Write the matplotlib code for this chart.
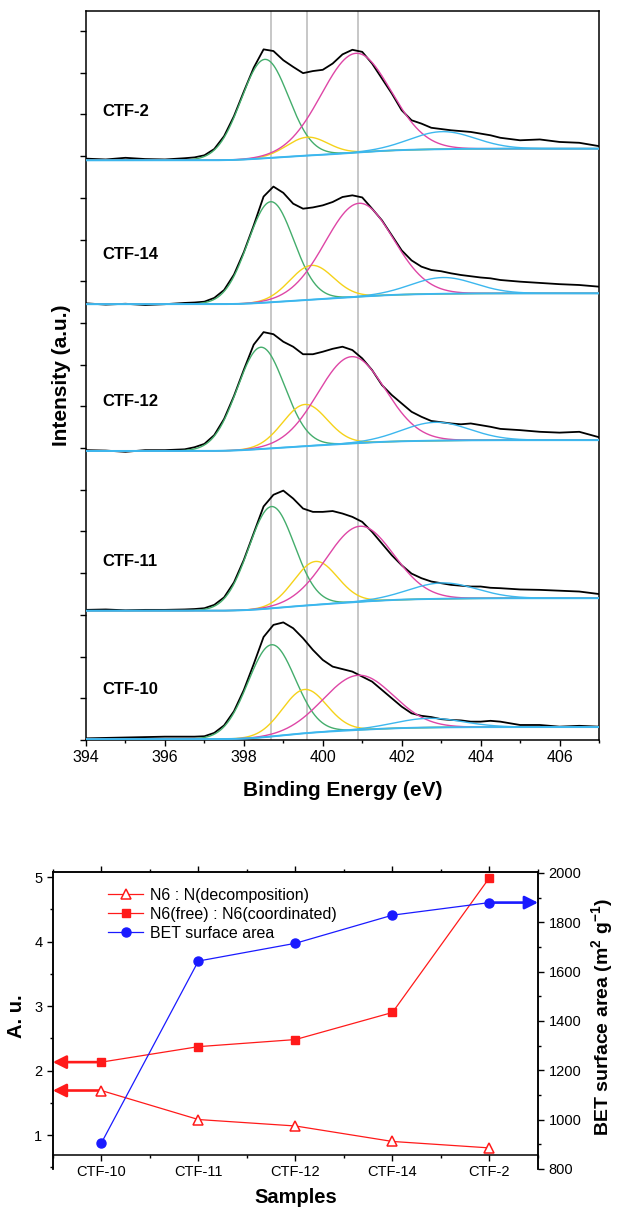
import numpy as np
import matplotlib
matplotlib.use('Agg')
import matplotlib.pyplot as plt
from matplotlib.ticker import MultipleLocator, NullFormatter

plt.rcParams['font.family'] = ['Liberation Sans', 'DejaVu Sans']
plt.rcParams['mathtext.fontset'] = 'custom'
plt.rcParams['mathtext.rm'] = 'Liberation Sans:bold'
plt.rcParams['mathtext.bf'] = 'Liberation Sans:bold'
plt.rcParams['mathtext.it'] = 'Liberation Sans:bold'
plt.rcParams['axes.linewidth'] = 1.1

# ---- samples (bottom -> top in the XPS stack, left -> right in the lower plot)
samples = ['CTF-10', 'CTF-11', 'CTF-12', 'CTF-14', 'CTF-2']

# ---- N1s XPS raw spectra (a.u., relative to each stacked offset)
be = [394.0, 394.5, 395.0, 395.5, 396.0, 396.5, 396.75, 397.0, 397.25, 397.5,
      397.75, 398.0, 398.25, 398.5, 398.75, 399.0, 399.25, 399.5, 399.75, 400.0,
      400.25, 400.5, 400.75, 401.0, 401.25, 401.5, 401.75, 402.0, 402.25, 402.5,
      402.75, 403.0, 403.25, 403.5, 403.75, 404.0, 404.25, 404.5, 405.0, 405.5,
      406.0, 406.5, 407.0]
int_ctf10 = [0.02, 0.03, 0.04, 0.05, 0.06, 0.06, 0.06, 0.07, 0.15, 0.33,
             0.67, 1.18, 1.80, 2.45, 2.74, 2.80, 2.66, 2.42, 2.14, 1.90,
             1.74, 1.68, 1.62, 1.50, 1.38, 1.18, 0.98, 0.78, 0.62, 0.56,
             0.53, 0.48, 0.46, 0.45, 0.42, 0.42, 0.44, 0.42, 0.34, 0.34,
             0.30, 0.32, 0.30]
int_ctf11 = [0.02, 0.03, 0.01, 0.02, 0.02, 0.03, 0.04, 0.06, 0.14, 0.32,
             0.68, 1.22, 1.86, 2.50, 2.78, 2.88, 2.69, 2.45, 2.37, 2.37,
             2.39, 2.33, 2.25, 2.13, 1.89, 1.61, 1.33, 1.09, 0.89, 0.78,
             0.70, 0.66, 0.62, 0.60, 0.58, 0.58, 0.55, 0.54, 0.51, 0.50,
             0.48, 0.46, 0.40]
int_ctf12 = [0.02, 0.01, -0.02, 0.02, 0.02, 0.04, 0.09, 0.17, 0.38, 0.77,
             1.32, 1.95, 2.55, 2.85, 2.80, 2.62, 2.50, 2.32, 2.32, 2.38,
             2.45, 2.50, 2.42, 2.22, 1.94, 1.58, 1.34, 1.14, 0.94, 0.82,
             0.72, 0.69, 0.66, 0.64, 0.66, 0.62, 0.58, 0.53, 0.50, 0.46,
             0.44, 0.46, 0.33]
int_ctf14 = [0.02, -0.01, 0.01, -0.02, 0.00, 0.03, 0.04, 0.06, 0.15, 0.34,
             0.71, 1.25, 1.89, 2.58, 2.82, 2.67, 2.41, 2.29, 2.32, 2.37,
             2.45, 2.57, 2.61, 2.56, 2.29, 2.01, 1.65, 1.29, 1.05, 0.90,
             0.82, 0.79, 0.74, 0.70, 0.67, 0.64, 0.62, 0.58, 0.54, 0.51,
             0.48, 0.46, 0.42]
int_ctf2 = [0.04, 0.02, 0.06, 0.03, 0.02, 0.05, 0.07, 0.12, 0.27, 0.58,
            1.06, 1.65, 2.22, 2.66, 2.62, 2.40, 2.24, 2.09, 2.14, 2.17,
            2.32, 2.54, 2.65, 2.60, 2.32, 1.96, 1.60, 1.20, 0.96, 0.88,
            0.78, 0.75, 0.72, 0.70, 0.68, 0.64, 0.60, 0.54, 0.48, 0.50,
            0.44, 0.42, 0.34]
offsets = [0.02, 3.10, 6.93, 10.45, 13.90]

# ---- fitted gaussian components (centre eV, height a.u., sigma eV), per sample
c1_pos = [398.70, 398.70, 398.43, 398.68, 398.53]
c1_amp = [2.20, 2.44, 2.44, 2.41, 2.37]
c1_wid = [0.60, 0.58, 0.60, 0.58, 0.60]
c2_pos = [399.54, 399.82, 399.55, 399.72, 399.61]
c2_amp = [1.05, 1.04, 1.00, 0.82, 0.44]
c2_wid = [0.56, 0.55, 0.56, 0.55, 0.52]
c3_pos = [400.90, 400.94, 400.73, 400.92, 400.84]
c3_amp = [1.31, 1.81, 2.08, 2.24, 2.38]
c3_wid = [0.88, 0.85, 0.85, 0.86, 0.88]
c4_pos = [402.69, 403.03, 402.86, 403.05, 403.03]
c4_amp = [0.22, 0.38, 0.44, 0.39, 0.42]
c4_wid = [0.85, 0.85, 0.85, 0.80, 0.82]
bg_rise = [0.29, 0.30, 0.26, 0.26, 0.28]
ref_lines = [398.7, 399.6, 400.9]

# ---- lower plot data
ratio_decomp = [1.69, 1.24, 1.14, 0.90, 0.80]
ratio_free = [2.13, 2.37, 2.48, 2.90, 4.99]
bet_area = [905, 1643, 1715, 1829, 1880]

green, yellow, magenta, cyan = '#44ad6c', '#f5d21a', '#de46a6', '#3cb7ee'
red, blue = '#ff1a1a', '#1a1aff'

fig = plt.figure(figsize=(6.18, 12.15), dpi=100)

# ================= XPS panel =================
ax = fig.add_axes([86 / 618, 1 - 740 / 1215, 513 / 618, 729 / 1215])
x = np.linspace(394, 407, 651)
spectra = [int_ctf10, int_ctf11, int_ctf12, int_ctf14, int_ctf2]
comps = [(c1_pos, c1_amp, c1_wid, green), (c2_pos, c2_amp, c2_wid, yellow),
         (c3_pos, c3_amp, c3_wid, magenta), (c4_pos, c4_amp, c4_wid, cyan)]

for xv in ref_lines:
    ax.axvline(xv, color='#b8b8b8', lw=1.1, zorder=1)

for i, name in enumerate(samples):
    off = offsets[i]
    peaks = [a[i] * np.exp(-0.5 * ((x - p[i]) / w[i]) ** 2) for p, a, w, _ in comps]
    cum = np.cumsum(np.sum(peaks, axis=0))
    bg = off + bg_rise[i] * cum / cum[-1]
    ax.plot(be, off + np.array(spectra[i]), color='black', lw=1.3, zorder=3)
    for pk, (_, _, _, col) in zip(peaks, comps):
        ax.plot(x, bg + pk, color=col, lw=1.0, zorder=4)
    ax.plot(x, bg, color=cyan, lw=1.4, zorder=5)
    ax.text(394.42, off + 1.18, name, fontsize=12, fontweight='bold', va='center')

ax.set_xlim(394, 407)
ax.set_ylim(0, 17.48)
ax.xaxis.set_major_locator(MultipleLocator(2))
ax.xaxis.set_minor_locator(MultipleLocator(1))
ax.yaxis.set_major_locator(MultipleLocator(1))
ax.yaxis.set_major_formatter(NullFormatter())
ax.tick_params(axis='both', which='major', direction='out', length=4, width=1, labelsize=11.5)
ax.tick_params(axis='x', which='minor', direction='out', length=2.5, width=1)
ax.set_xlabel('Binding Energy (eV)', fontsize=15, fontweight='bold')
ax.set_ylabel('Intensity (a.u.)', fontsize=15, fontweight='bold')
ax.xaxis.set_label_coords(0.5, -0.056)
ax.yaxis.set_label_coords(-0.030, 0.5)

# ================= ratio / BET panel =================
bx = fig.add_axes([52.8 / 618, 1 - 1169 / 1215, 485.2 / 618, 297 / 1215])
xi = np.arange(len(samples))
l1, = bx.plot(xi, ratio_decomp, color=red, lw=0.9, marker='^', ms=7, mfc='white',
              mec=red, mew=1.1, label='N6 : N(decomposition)', zorder=4)
l2, = bx.plot(xi, ratio_free, color=red, lw=0.9, marker='s', ms=5.5, mfc=red,
              mec=red, label='N6(free) : N6(coordinated)', zorder=4)
arrow = dict(arrowstyle='-|>,head_length=0.5,head_width=0.25', color=red, lw=1.9,
             mutation_scale=16, shrinkA=0, shrinkB=0)
for val in (ratio_free[0], ratio_decomp[0]):
    bx.annotate('', xy=(-0.5, val), xytext=(0, val), arrowprops=arrow,
                annotation_clip=False, zorder=3)
bx.set_xlim(-0.5, 4.5)
bx.set_ylim(0.473, 5.078)
bx.spines['bottom'].set_position(('data', 0.69))
bx.set_xticks(xi, samples)
bx.xaxis.set_minor_locator(MultipleLocator(0.5))
bx.yaxis.set_major_locator(MultipleLocator(1))
bx.yaxis.set_minor_locator(MultipleLocator(0.5))
bx.tick_params(axis='x', which='both', top=True, direction='out')
bx.tick_params(axis='both', which='major', length=4, width=1, labelsize=10.5)
bx.tick_params(axis='both', which='minor', length=2.5, width=1)
bx.set_xlabel('Samples', fontsize=14.5, fontweight='bold')
bx.set_ylabel('A. u.', fontsize=14.5, fontweight='bold')
bx.xaxis.set_label_coords(0.5, -0.064)
bx.yaxis.set_label_coords(-0.055, 0.515)

bx2 = bx.twinx()
l3, = bx2.plot(xi, bet_area, color=blue, lw=0.9, marker='o', ms=6.5, mfc=blue,
               mec=blue, label='BET surface area', zorder=4)
bx2.annotate('', xy=(4.5, bet_area[-1]), xytext=(4, bet_area[-1]),
             arrowprops=dict(arrow, color=blue), annotation_clip=False)
bx2.set_ylim(800, 2004)
bx2.spines['bottom'].set_visible(False)
bx2.yaxis.set_major_locator(MultipleLocator(200))
bx2.yaxis.set_minor_locator(MultipleLocator(100))
bx2.tick_params(axis='y', which='major', direction='out', length=4, width=1, labelsize=10.5)
bx2.tick_params(axis='y', which='minor', direction='out', length=2.5, width=1)
bx2.set_ylabel(r'BET surface area (m$^{2}$ g$^{-1}$)', fontsize=14, fontweight='bold')
bx2.yaxis.set_label_coords(1.106, 0.512)

bx2.legend([l1, l2, l3], [h.get_label() for h in (l1, l2, l3)], loc='upper left',
           bbox_to_anchor=(0.114, 0.9475), frameon=False, fontsize=11.5,
           handlelength=2.2, handletextpad=0.4, labelspacing=0.26,
           borderpad=0, borderaxespad=0)

fig.savefig('out.png', dpi=100)
